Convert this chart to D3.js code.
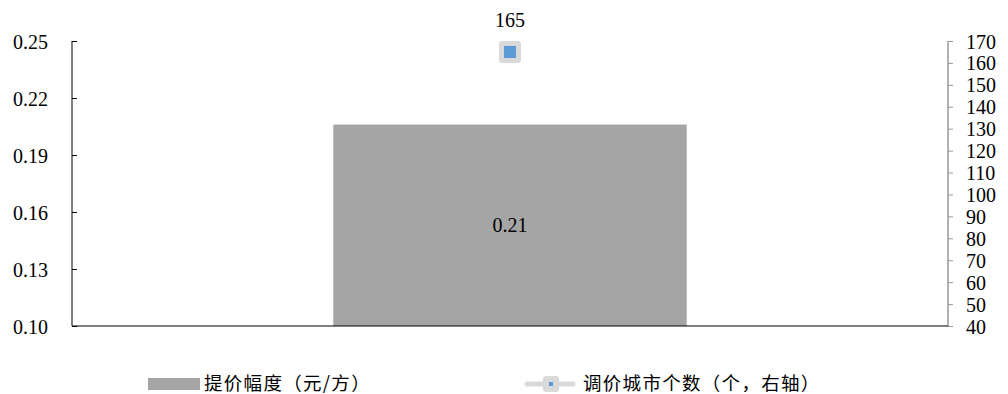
<!DOCTYPE html>
<html>
<head>
<meta charset="utf-8">
<script src="https://cdn.jsdelivr.net/npm/d3@7"></script>
<style>
  body { margin: 0; background: #fff; }
  svg { display: block; }
  .num { font-family: "Liberation Serif", "Times New Roman", serif; font-size: 20px; fill: #000; }
  .leg { font-family: "Noto Sans CJK SC", sans-serif; font-size: 18.5px; letter-spacing: 1.3px; fill: #000; }
</style>
</head>
<body>
<div id="chart"></div>
<script>
// data
var categories = ["本期"];
var raiseValues = [0.206];      // 提价幅度（元/方）
var cityCounts = [165];         // 调价城市个数（个，右轴）
var leftTicks = [0.10, 0.13, 0.16, 0.19, 0.22, 0.25];
var rightTicks = [40, 50, 60, 70, 80, 90, 100, 110, 120, 130, 140, 150, 160, 170];
var seriesNames = ["提价幅度（元/方）", "调价城市个数（个，右轴）"];

var width = 1008,
    height = 394;
var margin = {top: 41, right: 60, bottom: 68, left: 72};
var x0 = margin.left, x1 = width - margin.right;
var y0 = height - margin.bottom, y1 = margin.top;

var svg = d3.select("#chart").append("svg")
    .attr("width", width)
    .attr("height", height);

var x = d3.scaleBand().domain(categories).range([x0, x1]).padding(0.425);
var yL = d3.scaleLinear().domain([0.10, 0.25]).range([y0, y1]);
var yR = d3.scaleLinear().domain([40, 170]).range([y0, y1]);

// bars
svg.selectAll(".bar")
    .data(categories)
    .enter().append("rect")
    .attr("class", "bar")
    .attr("x", function(d) { return x(d); })
    .attr("width", x.bandwidth())
    .attr("y", function(d, i) { return yL(raiseValues[i]); })
    .attr("height", function(d, i) { return y0 - yL(raiseValues[i]); })
    .attr("fill", "#a5a5a5");

svg.selectAll(".barlabel")
    .data(categories)
    .enter().append("text")
    .attr("class", "num")
    .attr("x", function(d) { return x(d) + x.bandwidth() / 2; })
    .attr("y", function(d, i) { return (yL(raiseValues[i]) + y0) / 2 + 7; })
    .attr("text-anchor", "middle")
    .text(function(d, i) { return d3.format(".2f")(raiseValues[i]); });

// left axis
var leftAxis = d3.axisLeft(yL).tickValues(leftTicks).tickSize(-5).tickFormat(d3.format(".2f"));
var gl = svg.append("g").attr("transform", "translate(" + x0 + ",0)").call(leftAxis);
gl.select(".domain").attr("stroke", "#000").attr("d", "M0," + y1 + "V" + y0);
gl.selectAll(".tick line").attr("stroke", "#000");
gl.selectAll(".tick text").attr("class", "num").attr("x", -24).attr("dy", "0.35em");
gl.attr("font-family", null).attr("font-size", null);

// right axis
var rightAxis = d3.axisRight(yR).tickValues(rightTicks).tickSize(5);
var gr = svg.append("g").attr("transform", "translate(" + x1 + ",0)").call(rightAxis);
gr.select(".domain").attr("stroke", "#999").attr("stroke-width", 1.5).attr("d", "M0," + y1 + "V" + y0);
gr.selectAll(".tick line").attr("stroke", "#999");
gr.selectAll(".tick text").attr("class", "num").attr("x", 18).attr("dy", "0.35em");
gr.attr("font-family", null).attr("font-size", null);

// bottom baseline
svg.append("line")
    .attr("x1", x0).attr("x2", x1)
    .attr("y1", y0).attr("y2", y0)
    .attr("stroke", "#000");

// line series markers
var pts = svg.selectAll(".pt")
    .data(categories)
    .enter().append("g")
    .attr("class", "pt")
    .attr("transform", function(d, i) {
        return "translate(" + (x(d) + x.bandwidth() / 2) + "," + yR(cityCounts[i]) + ")";
    });
pts.append("rect")
    .attr("x", -11).attr("y", -11).attr("width", 22).attr("height", 22)
    .attr("rx", 3).attr("fill", "#d9d9d9");
pts.append("rect")
    .attr("x", -6).attr("y", -6).attr("width", 12).attr("height", 12)
    .attr("fill", "#5b9bd5");
pts.append("text")
    .attr("class", "num")
    .attr("y", -25)
    .attr("text-anchor", "middle")
    .text(function(d, i) { return cityCounts[i]; });

// legend
var ly = 384;
var leg = svg.append("g");
leg.append("rect").attr("x", 148).attr("y", ly - 6).attr("width", 52).attr("height", 12).attr("fill", "#a5a5a5");
leg.append("text").attr("class", "leg").attr("x", 204).attr("y", ly + 6).text(seriesNames[0]);

leg.append("line").attr("x1", 527).attr("x2", 573).attr("y1", ly).attr("y2", ly)
    .attr("stroke", "#d9d9d9").attr("stroke-width", 5).attr("stroke-linecap", "round");
leg.append("rect").attr("x", 543).attr("y", ly - 8).attr("width", 16).attr("height", 16).attr("rx", 3).attr("fill", "#d9d9d9");
leg.append("rect").attr("x", 549).attr("y", ly - 2).attr("width", 4).attr("height", 4).attr("fill", "#5b9bd5");
leg.append("text").attr("class", "leg").attr("x", 583).attr("y", ly + 6).text(seriesNames[1]);
</script>
</body>
</html>
